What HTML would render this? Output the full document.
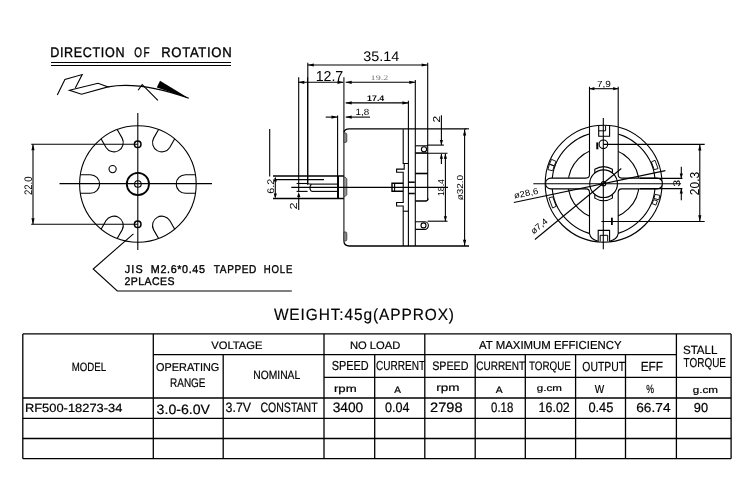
<!DOCTYPE html>
<html><head><meta charset="utf-8"><style>
html,body{margin:0;padding:0;background:#fff;width:750px;height:493px;overflow:hidden}
svg{display:block;will-change:transform} text{text-rendering:geometricPrecision}
</style></head><body>
<svg width="750" height="493" viewBox="0 0 750 493">
<rect width="750" height="493" fill="#fff"/>
<text id="td07451fe" transform="translate(50.21,57.00) scale(0.91,1)" x="0" y="0" font-size="13.81" textLength="81.65" lengthAdjust="spacing" font-family="Liberation Sans" font-weight="normal" fill="#000" stroke="#000" stroke-width="0.35">DIRECTION</text>
<text id="tf2e6598d" transform="translate(134.31,57.00) scale(0.72,1)" x="0" y="0" font-size="13.81" textLength="21.31" lengthAdjust="spacing" font-family="Liberation Sans" font-weight="normal" fill="#000" stroke="#000" stroke-width="0.35">OF</text>
<text id="t171494fa" transform="translate(161.24,57.00) scale(0.95,1)" x="0" y="0" font-size="13.81" textLength="74.09" lengthAdjust="spacing" font-family="Liberation Sans" font-weight="normal" fill="#000" stroke="#000" stroke-width="0.35">ROTATION</text>
<line x1="51.00" y1="62.50" x2="231.00" y2="62.50" stroke="#000" stroke-width="1.2"/>
<line x1="51.00" y1="65.50" x2="231.00" y2="65.50" stroke="#000" stroke-width="1.2"/>
<path d="M57.3,94.9 L64.9,79.4 L82.2,74.5 L75.3,88.1" stroke="#000" stroke-width="1.1" fill="none"/>
<path d="M69.5,90.3 L98,83.3 L108.1,86.9 L81.5,94.3 Z" stroke="#000" stroke-width="1.1" fill="none"/>
<path d="M108.1,86.9 Q140,81 188.8,98.3" stroke="#000" stroke-width="1.1" fill="none"/>
<path d="M138.1,90.3 L142.2,84.6 L157.9,100.4" stroke="#000" stroke-width="1.1" fill="none"/>
<path d="M160,80.7 L156.8,87.6 L188.8,98.3 Z" fill="#000"/>
<circle cx="137.90" cy="184.00" r="58.30" stroke="#000" stroke-width="1.1" fill="none"/>
<path d="M195.45,193.30 L185.50,193.30 A9.3,9.3 0 0 1 185.50,174.70 L195.45,174.70" stroke="#000" stroke-width="1.1" fill="none"/>
<path d="M174.73,138.81 L169.75,147.43 A9.3,9.3 0 0 1 153.65,138.13 L158.62,129.51" stroke="#000" stroke-width="1.1" fill="none"/>
<path d="M117.18,129.51 L122.15,138.13 A9.3,9.3 0 0 1 106.05,147.43 L101.07,138.81" stroke="#000" stroke-width="1.1" fill="none"/>
<path d="M80.35,174.70 L90.30,174.70 A9.3,9.3 0 0 1 90.30,193.30 L80.35,193.30" stroke="#000" stroke-width="1.1" fill="none"/>
<path d="M101.07,229.19 L106.05,220.57 A9.3,9.3 0 0 1 122.15,229.87 L117.18,238.49" stroke="#000" stroke-width="1.1" fill="none"/>
<path d="M158.62,238.49 L153.65,229.87 A9.3,9.3 0 0 1 169.75,220.57 L174.73,229.19" stroke="#000" stroke-width="1.1" fill="none"/>
<line x1="59.50" y1="183.60" x2="212.00" y2="183.60" stroke="#000" stroke-width="1.1"/>
<line x1="137.80" y1="113.00" x2="137.80" y2="250.00" stroke="#000" stroke-width="1.1"/>
<circle cx="137.90" cy="184.00" r="11.10" stroke="#000" stroke-width="1.8" fill="none"/>
<circle cx="137.90" cy="184.00" r="3.30" stroke="#000" stroke-width="1.1" fill="none"/>
<circle cx="137.70" cy="144.20" r="3.30" stroke="#000" stroke-width="1.5" fill="none"/>
<circle cx="137.70" cy="224.30" r="3.30" stroke="#000" stroke-width="1.5" fill="none"/>
<circle cx="112.60" cy="169.10" r="3.60" stroke="#000" stroke-width="1.1" fill="none"/>
<line x1="31.20" y1="144.20" x2="137.70" y2="144.20" stroke="#000" stroke-width="1.1"/>
<line x1="31.20" y1="224.30" x2="137.70" y2="224.30" stroke="#000" stroke-width="1.1"/>
<line x1="33.00" y1="144.20" x2="33.00" y2="224.30" stroke="#000" stroke-width="1.1"/>
<path d="M33.00,144.20 L34.60,150.20 L31.40,150.20 Z" fill="#000"/>
<path d="M33.00,224.30 L31.40,218.30 L34.60,218.30 Z" fill="#000"/>
<g id="tfa8276b0" transform="translate(32.22,195.09) rotate(-90)"><text x="0" y="0" font-size="10.93" textLength="18.64" lengthAdjust="spacingAndGlyphs" font-family="Liberation Sans" fill="#000">22.0</text></g>
<path d="M133.4,233.8 L93.2,269 L117.3,291 L291.8,291" stroke="#000" stroke-width="1.1" fill="none"/>
<text id="t4ec7ca9b" transform="translate(124.72,272.60) scale(0.95,1)" x="0" y="0" font-size="11.34" textLength="18.86" lengthAdjust="spacing" font-family="Liberation Sans" font-weight="normal" fill="#000" stroke="#000" stroke-width="0.35">JIS</text>
<text id="ta46a9d43" transform="translate(150.86,272.60) scale(0.95,1)" x="0" y="0" font-size="11.34" textLength="56.90" lengthAdjust="spacing" font-family="Liberation Sans" font-weight="normal" fill="#000" stroke="#000" stroke-width="0.35">M2.6*0.45</text>
<text id="t96287b0b" transform="translate(213.85,272.60) scale(0.89,1)" x="0" y="0" font-size="11.34" textLength="47.73" lengthAdjust="spacing" font-family="Liberation Sans" font-weight="normal" fill="#000" stroke="#000" stroke-width="0.35">TAPPED</text>
<text id="t01890a85" transform="translate(263.84,272.60) scale(0.85,1)" x="0" y="0" font-size="11.34" textLength="33.54" lengthAdjust="spacing" font-family="Liberation Sans" font-weight="normal" fill="#000" stroke="#000" stroke-width="0.35">HOLE</text>
<text id="t11d90168" transform="translate(124.46,285.00) scale(0.95,1)" x="0" y="0" font-size="11.05" textLength="52.60" lengthAdjust="spacing" font-family="Liberation Sans" font-weight="normal" fill="#000" stroke="#000" stroke-width="0.35">2PLACES</text>
<text id="tf5312727" x="363.21" y="61.10" font-size="13.81" textLength="35.97" lengthAdjust="spacingAndGlyphs" font-family="Liberation Sans" font-weight="normal" fill="#000">35.14</text>
<line x1="307.80" y1="65.00" x2="427.70" y2="65.00" stroke="#000" stroke-width="1.1"/>
<path d="M307.80,65.00 L313.80,63.40 L313.80,66.60 Z" fill="#000"/>
<path d="M427.70,65.00 L421.70,66.60 L421.70,63.40 Z" fill="#000"/>
<line x1="307.80" y1="62.80" x2="307.80" y2="185.00" stroke="#000" stroke-width="1.1"/>
<line x1="427.70" y1="62.80" x2="427.70" y2="200.00" stroke="#000" stroke-width="1.1"/>
<text id="t813f9eb9" x="315.63" y="80.70" font-size="14.39" textLength="27.65" lengthAdjust="spacingAndGlyphs" font-family="Liberation Sans" font-weight="normal" fill="#000">12.7</text>
<line x1="298.30" y1="82.30" x2="343.50" y2="82.30" stroke="#000" stroke-width="1.1"/>
<path d="M298.30,82.30 L304.30,80.70 L304.30,83.90 Z" fill="#000"/>
<path d="M343.50,82.30 L337.50,83.90 L337.50,80.70 Z" fill="#000"/>
<line x1="298.70" y1="77.30" x2="298.70" y2="191.60" stroke="#000" stroke-width="1.1"/>
<line x1="343.90" y1="77.30" x2="343.90" y2="241.70" stroke="#333" stroke-width="1.3"/>
<text id="t7fa4963f" x="370.64" y="79.80" font-size="6.98" textLength="17.74" lengthAdjust="spacingAndGlyphs" font-family="Liberation Serif" font-weight="normal" fill="#777">19.2</text>
<line x1="345.70" y1="82.30" x2="415.30" y2="82.30" stroke="#000" stroke-width="1.1"/>
<path d="M345.70,82.30 L351.70,80.70 L351.70,83.90 Z" fill="#000"/>
<path d="M415.30,82.30 L409.30,83.90 L409.30,80.70 Z" fill="#000"/>
<line x1="415.30" y1="80.00" x2="415.30" y2="246.00" stroke="#000" stroke-width="1.1"/>
<text id="t4eb235c8" x="367.10" y="101.20" font-size="8.14" textLength="17.19" lengthAdjust="spacingAndGlyphs" font-family="Liberation Sans" font-weight="bold" fill="#000">17.4</text>
<line x1="345.70" y1="102.90" x2="408.40" y2="102.90" stroke="#000" stroke-width="1.1"/>
<path d="M345.70,102.90 L351.70,101.30 L351.70,104.50 Z" fill="#000"/>
<path d="M408.40,102.90 L402.40,104.50 L402.40,101.30 Z" fill="#000"/>
<line x1="408.40" y1="100.70" x2="408.40" y2="246.00" stroke="#000" stroke-width="1.1"/>
<text id="t9f65f6f7" x="355.62" y="115.40" font-size="9.01" textLength="13.67" lengthAdjust="spacingAndGlyphs" font-family="Liberation Sans" font-weight="normal" fill="#000">1,8</text>
<line x1="325.70" y1="117.10" x2="337.50" y2="117.10" stroke="#000" stroke-width="1.1"/>
<path d="M337.50,117.10 L331.50,118.70 L331.50,115.50 Z" fill="#000"/>
<line x1="345.70" y1="117.10" x2="370.00" y2="117.10" stroke="#000" stroke-width="1.1"/>
<path d="M345.70,117.10 L351.70,115.50 L351.70,118.70 Z" fill="#000"/>
<line x1="337.60" y1="115.60" x2="337.60" y2="176.00" stroke="#000" stroke-width="1.1"/>
<path d="M343.9,132.4 Q344.5,128.8 349.4,128.8 L466.4,128.8" stroke="#000" stroke-width="1.3" fill="none"/>
<path d="M343.9,241.7 Q344.5,246 349.4,246 L469,246" stroke="#000" stroke-width="1.3" fill="none"/>
<line x1="465.00" y1="128.80" x2="469.00" y2="128.80" stroke="#000" stroke-width="1.1"/>
<path d="M343.9,133 L345.8,133 Q346.8,133 346.8,134.5 L346.8,141 Q346.8,142.4 345.8,142.4 L343.9,142.4 Z" fill="#888" stroke="#333" stroke-width="0.8"/>
<path d="M343.9,177.2 L345.3,177.2 L346.8,178.7 L346.8,194.8 L345.3,196.3 L343.9,196.3 Z" fill="#999" stroke="#333" stroke-width="0.8"/>
<path d="M343.9,232 L345.8,232 Q346.8,232 346.8,233.5 L346.8,239.5 Q346.8,240.9 345.8,240.9 L343.9,240.9 Z" fill="#888" stroke="#333" stroke-width="0.8"/>
<line x1="273.00" y1="176.00" x2="343.90" y2="176.00" stroke="#000" stroke-width="1.5"/>
<line x1="273.00" y1="198.50" x2="343.90" y2="198.50" stroke="#000" stroke-width="1.5"/>
<line x1="338.00" y1="176.00" x2="338.00" y2="198.50" stroke="#000" stroke-width="2.0"/>
<line x1="275.00" y1="179.60" x2="324.00" y2="179.60" stroke="#000" stroke-width="1.1"/>
<line x1="296.60" y1="183.50" x2="307.60" y2="183.50" stroke="#000" stroke-width="1.1"/>
<line x1="296.60" y1="191.40" x2="307.60" y2="191.40" stroke="#000" stroke-width="1.1"/>
<path d="M307.6,77.3 L307.6,183.2 Q308.2,184.1 311.4,184.1" stroke="#000" stroke-width="1.1" fill="none"/>
<path d="M311.4,184.1 Q308.4,187.7 311.4,191.4" stroke="#000" stroke-width="1.1" fill="none"/>
<line x1="311.40" y1="184.10" x2="338.00" y2="184.10" stroke="#000" stroke-width="1.1"/>
<line x1="311.40" y1="191.40" x2="338.00" y2="191.40" stroke="#000" stroke-width="1.1"/>
<line x1="291.30" y1="187.40" x2="448.00" y2="187.40" stroke="#000" stroke-width="1.1"/>
<line x1="269.70" y1="129.00" x2="269.70" y2="176.40" stroke="#000" stroke-width="1.1"/>
<line x1="275.30" y1="178.00" x2="275.30" y2="197.30" stroke="#000" stroke-width="1.1"/>
<path d="M275.30,176.50 L276.90,181.50 L273.70,181.50 Z" fill="#000"/>
<path d="M275.30,198.50 L273.70,193.50 L276.90,193.50 Z" fill="#000"/>
<g id="t292ff483" transform="translate(273.96,193.81) rotate(-90)"><text x="0" y="0" font-size="9.62" textLength="15.07" lengthAdjust="spacingAndGlyphs" font-family="Liberation Sans" fill="#000">6.2</text></g>
<line x1="298.70" y1="194.00" x2="298.70" y2="210.00" stroke="#000" stroke-width="1.1"/>
<path d="M298.70,192.00 L300.30,197.00 L297.10,197.00 Z" fill="#000"/>
<g id="t7d842162" transform="translate(296.79,209.44) rotate(-90)"><text x="0" y="0" font-size="10.16" textLength="7.07" lengthAdjust="spacingAndGlyphs" font-family="Liberation Sans" fill="#000">2</text></g>
<path d="M403.2,129.2 L403.2,163.5 L408.3,163.5" stroke="#000" stroke-width="1.1" fill="none"/>
<path d="M404.2,163.5 L404.2,169.1 L396.6,169.1 L396.6,172.2 L403.2,172.2 L403.2,202.5 L396.6,202.5 L396.6,206 L403.2,206 L403.2,246" stroke="#000" stroke-width="1.1" fill="none"/>
<line x1="403.20" y1="211.20" x2="408.30" y2="211.20" stroke="#000" stroke-width="1.1"/>
<line x1="408.80" y1="182.20" x2="414.80" y2="182.20" stroke="#000" stroke-width="1.5"/>
<line x1="408.80" y1="193.50" x2="414.80" y2="193.50" stroke="#000" stroke-width="1.5"/>
<path d="M403.2,183.2 L392,183.2 L392,191.3 L403.2,191.3" stroke="#000" stroke-width="1.4" fill="none"/>
<line x1="394.60" y1="183.20" x2="394.60" y2="191.30" stroke="#000" stroke-width="1.1"/>
<path d="M415.4,173.5 L428,173.5" stroke="#000" stroke-width="1.6" fill="none"/>
<path d="M428,198.5 Q428,201 425.5,201 L415.4,201" stroke="#000" stroke-width="1.3" fill="none"/>
<path d="M415.4,145.8 L428,145.8" stroke="#000" stroke-width="1.1" fill="none"/>
<path d="M415.4,152.9 L428,152.9" stroke="#000" stroke-width="1.1" fill="none"/>
<circle cx="424.00" cy="149.30" r="2.60" stroke="#000" stroke-width="1.1" fill="none"/>
<path d="M415.4,221.8 L424.6,221.8 A3.8,3.8 0 0 1 424.6,229.4 L415.4,229.4" stroke="#000" stroke-width="1.1" fill="none"/>
<circle cx="423.50" cy="225.40" r="2.50" stroke="#000" stroke-width="1.1" fill="none"/>
<line x1="427.60" y1="145.10" x2="443.90" y2="145.10" stroke="#000" stroke-width="1.1"/>
<line x1="415.30" y1="153.30" x2="447.50" y2="153.30" stroke="#000" stroke-width="1.1"/>
<line x1="441.40" y1="115.30" x2="441.40" y2="145.10" stroke="#000" stroke-width="1.1"/>
<path d="M441.40,145.10 L439.80,140.10 L443.00,140.10 Z" fill="#000"/>
<line x1="441.40" y1="153.70" x2="441.40" y2="164.00" stroke="#000" stroke-width="1.1"/>
<path d="M441.40,153.70 L443.00,158.70 L439.80,158.70 Z" fill="#000"/>
<g id="tbc256b78" transform="translate(440.14,122.62) rotate(-90)"><text x="0" y="0" font-size="10.11" textLength="6.67" lengthAdjust="spacingAndGlyphs" font-family="Liberation Sans" fill="#000">2</text></g>
<line x1="445.40" y1="153.70" x2="445.40" y2="221.20" stroke="#000" stroke-width="1.1"/>
<path d="M445.40,153.70 L447.00,158.70 L443.80,158.70 Z" fill="#000"/>
<path d="M445.40,221.20 L443.80,216.20 L447.00,216.20 Z" fill="#000"/>
<line x1="427.60" y1="221.20" x2="447.50" y2="221.20" stroke="#000" stroke-width="1.1"/>
<g id="t678559b9" transform="translate(443.64,196.09) rotate(-90)"><text x="0" y="0" font-size="8.78" textLength="17.06" lengthAdjust="spacingAndGlyphs" font-family="Liberation Sans" fill="#000">18.4</text></g>
<line x1="464.60" y1="129.20" x2="464.60" y2="246.00" stroke="#000" stroke-width="1.1"/>
<path d="M464.60,129.50 L466.20,135.50 L463.00,135.50 Z" fill="#000"/>
<path d="M464.60,245.70 L463.00,239.70 L466.20,239.70 Z" fill="#000"/>
<g id="t65c82505" transform="translate(463.46,200.31) rotate(-90)"><text x="0" y="0" font-size="8.75" textLength="25.42" lengthAdjust="spacingAndGlyphs" font-family="Liberation Sans" fill="#000">ø32.0</text></g>
<text id="t41ddb5c4" x="596.92" y="86.58" font-size="8.87" textLength="13.96" lengthAdjust="spacingAndGlyphs" font-family="Liberation Sans" font-weight="normal" fill="#000">7,9</text>
<line x1="589.40" y1="88.70" x2="618.20" y2="88.70" stroke="#000" stroke-width="1.1"/>
<path d="M589.40,88.70 L594.40,87.10 L594.40,90.30 Z" fill="#000"/>
<path d="M618.20,88.70 L613.20,90.30 L613.20,87.10 Z" fill="#000"/>
<circle cx="603.60" cy="183.70" r="58.40" stroke="#000" stroke-width="1.1" fill="none"/>
<circle cx="603.60" cy="183.70" r="51.60" stroke="#000" stroke-width="1.1" fill="none"/>
<circle cx="603.60" cy="183.70" r="35.40" stroke="#000" stroke-width="1.1" fill="none"/>
<path d="M554.20,165.92 L549.50,164.22 L547.86,169.59 L552.70,170.82 Z" stroke="#000" stroke-width="0.9" fill="none"/>
<path d="M556.06,161.43 L551.53,159.31 L549.53,164.13 L554.23,165.83 Z" stroke="#000" stroke-width="0.9" fill="none"/>
<path d="M552.77,196.84 L548.90,197.85 L552.60,208.02 L556.21,206.30 Z" stroke="#000" stroke-width="0.9" fill="none"/>
<path d="M654.19,169.67 L658.05,168.60 L655.01,160.27 L651.37,161.93 Z" stroke="#000" stroke-width="0.9" fill="none"/>
<path d="M653.99,198.44 L658.79,199.84 L659.91,195.36 L655.01,194.35 Z" stroke="#000" stroke-width="0.9" fill="none"/>
<path d="M652.17,203.62 L655.87,205.14 L657.43,200.88 L653.61,199.66 Z" stroke="#000" stroke-width="0.9" fill="none"/>
<path d="M589.5,127.6 L589.5,174.6 Q589.5,178.1 586.0,178.1 L550.9,178.1 A5.400000000000006,5.400000000000006 0 0 0 550.9,188.9 L586.0,188.9 Q589.5,188.9 589.5,192.4 L589.5,233.7 Q590.5,239.5 598.2,241.2 L609.6,241.2 Q617.2,239.5 618.2,233.7 L618.2,192.4 Q618.2,188.9 621.7,188.9 L657.0,188.9 A5.400000000000006,5.400000000000006 0 0 0 657.0,178.1 L621.7,178.1 Q618.2,178.1 618.2,174.6 L618.2,127.6 Z" fill="#fff" stroke="none"/>
<path d="M589.5,86.8 L589.5,174.6 Q589.5,178.1 586.0,178.1 L550.9,178.1 A5.400000000000006,5.400000000000006 0 0 0 550.9,188.9 L586.0,188.9 Q589.5,188.9 589.5,192.4 L589.5,233.7 Q590.5,239.5 598.2,241.2" stroke="#000" stroke-width="1.1" fill="none"/>
<path d="M618.2,86.8 L618.2,174.6 Q618.2,178.1 621.7,178.1 L657.0,178.1 A5.400000000000006,5.400000000000006 0 0 1 657.0,188.9 L621.7,188.9 Q618.2,188.9 618.2,192.4 L618.2,233.7 Q617.2,239.5 609.6,241.2" stroke="#000" stroke-width="1.1" fill="none"/>
<circle cx="603.60" cy="183.70" r="13.85" stroke="#000" stroke-width="1.1" fill="none"/>
<circle cx="603.60" cy="183.70" r="2.20" stroke="#000" stroke-width="1.1" fill="none"/>
<path d="M594.80,173.01 L594.80,169.27 A16.9,16.9 0 0 1 612.40,169.27 L612.40,173.01" stroke="#000" stroke-width="1.1" fill="none"/>
<path d="M594.80,194.39 L594.80,198.13 A16.9,16.9 0 0 0 612.40,198.13 L612.40,194.39" stroke="#000" stroke-width="1.1" fill="none"/>
<line x1="533.30" y1="183.70" x2="681.00" y2="183.70" stroke="#000" stroke-width="1.1"/>
<line x1="603.30" y1="118.00" x2="603.30" y2="249.30" stroke="#000" stroke-width="1.1"/>
<path d="M598.7,125.9 L598.7,136.3 L609.6,136.3 L609.6,125.9" fill="none" stroke="#000" stroke-width="1.1"/>
<path d="M598.7,130.8 L605.6,130.8 L605.6,125.9" fill="none" stroke="#000" stroke-width="1"/>
<circle cx="603.40" cy="144.30" r="4.30" stroke="#000" stroke-width="1.1" fill="none"/>
<rect x="596.3" y="142.4" width="2" height="6.9" fill="#000"/>
<path d="M598.2,241.4 L598.2,230.4 L609.6,230.4 L609.6,241.4" fill="none" stroke="#000" stroke-width="1.1"/>
<path d="M600.2,241.4 L600.2,235.3 L607.7,235.3 L607.7,241.4" fill="none" stroke="#000" stroke-width="1"/>
<rect x="611" y="217.7" width="1.8" height="7.3" fill="#000"/>
<line x1="603.30" y1="144.40" x2="704.70" y2="144.40" stroke="#000" stroke-width="1.1"/>
<line x1="601.40" y1="221.50" x2="704.70" y2="221.50" stroke="#000" stroke-width="1.1"/>
<line x1="699.80" y1="144.40" x2="699.80" y2="221.50" stroke="#000" stroke-width="1.1"/>
<path d="M699.80,144.60 L701.40,150.60 L698.20,150.60 Z" fill="#000"/>
<path d="M699.80,221.30 L698.20,215.30 L701.40,215.30 Z" fill="#000"/>
<g id="t9876b7a1" transform="translate(698.65,195.13) rotate(-90)"><text x="0" y="0" font-size="12.92" textLength="23.28" lengthAdjust="spacingAndGlyphs" font-family="Liberation Sans" fill="#000">20.3</text></g>
<line x1="640.00" y1="178.40" x2="682.40" y2="178.40" stroke="#000" stroke-width="1.1"/>
<line x1="640.00" y1="188.60" x2="682.40" y2="188.60" stroke="#000" stroke-width="1.1"/>
<line x1="681.30" y1="166.80" x2="681.30" y2="178.40" stroke="#000" stroke-width="1.1"/>
<path d="M681.30,178.40 L679.70,173.40 L682.90,173.40 Z" fill="#000"/>
<line x1="681.30" y1="188.60" x2="681.30" y2="200.30" stroke="#000" stroke-width="1.1"/>
<path d="M681.30,188.60 L682.90,193.60 L679.70,193.60 Z" fill="#000"/>
<g id="t451c4fd9" transform="translate(680.24,186.73) rotate(-90)"><text x="0" y="0" font-size="9.65" textLength="7.07" lengthAdjust="spacingAndGlyphs" font-family="Liberation Sans" fill="#000">3</text></g>
<line x1="513.80" y1="202.50" x2="665.40" y2="170.60" stroke="#000" stroke-width="1.1"/>
<line x1="534.90" y1="239.50" x2="621.30" y2="168.50" stroke="#000" stroke-width="1.1"/>
<g transform="translate(514.60,198.60) rotate(-11.50)"><text x="0" y="0" font-size="8.72" textLength="24.50" lengthAdjust="spacingAndGlyphs" font-family="Liberation Sans" fill="#000">ø28,6</text></g>
<g transform="translate(533.50,234.60) rotate(-39.50)"><text x="0" y="0" font-size="8.72" textLength="19.50" lengthAdjust="spacingAndGlyphs" font-family="Liberation Sans" fill="#000">ø7,4</text></g>
<text id="t4463606a" transform="translate(273.88,319.55) scale(0.95,1)" x="0" y="0" font-size="16.28" textLength="189.63" lengthAdjust="spacing" font-family="Liberation Sans" font-weight="normal" fill="#000" stroke="#000" stroke-width="0.15">WEIGHT:45g(APPROX)</text>
<line x1="22.80" y1="333.90" x2="731.10" y2="333.90" stroke="#000" stroke-width="1.3"/>
<line x1="22.80" y1="458.70" x2="731.10" y2="458.70" stroke="#000" stroke-width="1.3"/>
<line x1="22.80" y1="333.90" x2="22.80" y2="458.70" stroke="#000" stroke-width="1.3"/>
<line x1="731.10" y1="333.90" x2="731.10" y2="458.70" stroke="#000" stroke-width="1.3"/>
<line x1="153.30" y1="333.90" x2="153.30" y2="458.70" stroke="#000" stroke-width="1.3"/>
<line x1="324.00" y1="333.90" x2="324.00" y2="458.70" stroke="#000" stroke-width="1.3"/>
<line x1="424.80" y1="333.90" x2="424.80" y2="458.70" stroke="#000" stroke-width="1.3"/>
<line x1="676.40" y1="333.90" x2="676.40" y2="458.70" stroke="#000" stroke-width="1.3"/>
<line x1="223.20" y1="354.60" x2="223.20" y2="458.70" stroke="#000" stroke-width="1.3"/>
<line x1="374.70" y1="354.60" x2="374.70" y2="458.70" stroke="#000" stroke-width="1.3"/>
<line x1="475.20" y1="354.60" x2="475.20" y2="458.70" stroke="#000" stroke-width="1.3"/>
<line x1="525.30" y1="354.60" x2="525.30" y2="458.70" stroke="#000" stroke-width="1.3"/>
<line x1="575.60" y1="354.60" x2="575.60" y2="458.70" stroke="#000" stroke-width="1.3"/>
<line x1="625.50" y1="354.60" x2="625.50" y2="458.70" stroke="#000" stroke-width="1.3"/>
<line x1="153.30" y1="354.60" x2="676.40" y2="354.60" stroke="#000" stroke-width="1.3"/>
<line x1="324.00" y1="377.40" x2="731.10" y2="377.40" stroke="#000" stroke-width="1.3"/>
<line x1="22.80" y1="398.00" x2="731.10" y2="398.00" stroke="#000" stroke-width="1.3"/>
<line x1="22.80" y1="418.40" x2="731.10" y2="418.40" stroke="#000" stroke-width="1.3"/>
<line x1="22.80" y1="438.50" x2="731.10" y2="438.50" stroke="#000" stroke-width="1.3"/>
<text id="t4e160b7a" x="71.66" y="370.80" font-size="11.92" textLength="34.39" lengthAdjust="spacingAndGlyphs" font-family="Liberation Sans" font-weight="normal" fill="#000" stroke="#000" stroke-width="0.2">MODEL</text>
<text id="t1dfefab7" x="211.19" y="349.00" font-size="10.90" textLength="51.33" lengthAdjust="spacingAndGlyphs" font-family="Liberation Sans" font-weight="normal" fill="#000" stroke="#000" stroke-width="0.2">VOLTAGE</text>
<text id="td854d700" x="156.03" y="370.90" font-size="11.34" textLength="63.34" lengthAdjust="spacingAndGlyphs" font-family="Liberation Sans" font-weight="normal" fill="#000" stroke="#000" stroke-width="0.2">OPERATING</text>
<text id="tb571642d" x="170.07" y="386.90" font-size="12.50" textLength="35.43" lengthAdjust="spacingAndGlyphs" font-family="Liberation Sans" font-weight="normal" fill="#000" stroke="#000" stroke-width="0.2">RANGE</text>
<text id="t0ef3623f" x="253.34" y="379.10" font-size="11.92" textLength="46.87" lengthAdjust="spacingAndGlyphs" font-family="Liberation Sans" font-weight="normal" fill="#000" stroke="#000" stroke-width="0.2">NOMINAL</text>
<text id="t4782b442" x="349.94" y="348.50" font-size="10.90" textLength="50.46" lengthAdjust="spacingAndGlyphs" font-family="Liberation Sans" font-weight="normal" fill="#000" stroke="#000" stroke-width="0.2">NO LOAD</text>
<text id="tc07cb29d" x="479.10" y="349.00" font-size="11.63" textLength="142.43" lengthAdjust="spacingAndGlyphs" font-family="Liberation Sans" font-weight="normal" fill="#000" stroke="#000" stroke-width="0.2">AT MAXIMUM EFFICIENCY</text>
<text id="tcf46fadd" x="682.90" y="354.30" font-size="11.92" textLength="34.60" lengthAdjust="spacingAndGlyphs" font-family="Liberation Sans" font-weight="normal" fill="#000" stroke="#000" stroke-width="0.2">STALL</text>
<text id="t769021a7" x="683.58" y="366.86" font-size="12.94" textLength="42.43" lengthAdjust="spacingAndGlyphs" font-family="Liberation Sans" font-weight="normal" fill="#000" stroke="#000" stroke-width="0.2">TORQUE</text>
<text id="t56fef380" x="331.68" y="369.50" font-size="13.08" textLength="36.93" lengthAdjust="spacingAndGlyphs" font-family="Liberation Sans" font-weight="normal" fill="#000" stroke="#000" stroke-width="0.2">SPEED</text>
<text id="tcbea2f60" x="376.04" y="369.50" font-size="13.08" textLength="49.18" lengthAdjust="spacingAndGlyphs" font-family="Liberation Sans" font-weight="normal" fill="#000" stroke="#000" stroke-width="0.2">CURRENT</text>
<text id="t3f1ba038" x="432.20" y="369.50" font-size="12.35" textLength="36.30" lengthAdjust="spacingAndGlyphs" font-family="Liberation Sans" font-weight="normal" fill="#000" stroke="#000" stroke-width="0.2">SPEED</text>
<text id="t455f7437" x="476.28" y="369.50" font-size="12.35" textLength="48.84" lengthAdjust="spacingAndGlyphs" font-family="Liberation Sans" font-weight="normal" fill="#000" stroke="#000" stroke-width="0.2">CURRENT</text>
<text id="t395da97c" x="528.92" y="369.77" font-size="12.35" textLength="42.01" lengthAdjust="spacingAndGlyphs" font-family="Liberation Sans" font-weight="normal" fill="#000" stroke="#000" stroke-width="0.2">TORQUE</text>
<text id="tf664357d" x="582.30" y="370.60" font-size="13.23" textLength="42.71" lengthAdjust="spacingAndGlyphs" font-family="Liberation Sans" font-weight="normal" fill="#000" stroke="#000" stroke-width="0.2">OUTPUT</text>
<text id="t7f9b9095" x="640.73" y="370.60" font-size="13.23" textLength="22.37" lengthAdjust="spacingAndGlyphs" font-family="Liberation Sans" font-weight="normal" fill="#000" stroke="#000" stroke-width="0.2">EFF</text>
<text id="tf88cc54b" x="333.96" y="391.65" font-size="10.22" textLength="22.72" lengthAdjust="spacingAndGlyphs" font-family="Liberation Sans" font-weight="normal" fill="#000" stroke="#000" stroke-width="0.2">rpm</text>
<text id="t108cd677" x="394.15" y="392.70" font-size="9.30" textLength="6.69" lengthAdjust="spacingAndGlyphs" font-family="Liberation Sans" font-weight="normal" fill="#000" stroke="#000" stroke-width="0.2">A</text>
<text id="t94e46f19" x="436.39" y="391.41" font-size="10.40" textLength="23.20" lengthAdjust="spacingAndGlyphs" font-family="Liberation Sans" font-weight="normal" fill="#000" stroke="#000" stroke-width="0.2">rpm</text>
<text id="tf9fd6c1d" x="495.83" y="392.70" font-size="9.30" textLength="6.88" lengthAdjust="spacingAndGlyphs" font-family="Liberation Sans" font-weight="normal" fill="#000" stroke="#000" stroke-width="0.2">A</text>
<text id="t5dbbe716" x="536.89" y="391.15" font-size="8.90" textLength="25.03" lengthAdjust="spacingAndGlyphs" font-family="Liberation Sans" font-weight="normal" fill="#000" stroke="#000" stroke-width="0.2">g.cm</text>
<text id="t442c9191" x="594.71" y="393.00" font-size="11.63" textLength="9.44" lengthAdjust="spacingAndGlyphs" font-family="Liberation Sans" font-weight="normal" fill="#000" stroke="#000" stroke-width="0.2">W</text>
<text id="t7242c3ca" x="646.13" y="393.40" font-size="11.93" textLength="7.75" lengthAdjust="spacingAndGlyphs" font-family="Liberation Sans" font-weight="normal" fill="#000" stroke="#000" stroke-width="0.2">%</text>
<text id="t00e35e57" x="692.71" y="392.50" font-size="9.35" textLength="25.22" lengthAdjust="spacingAndGlyphs" font-family="Liberation Sans" font-weight="normal" fill="#000" stroke="#000" stroke-width="0.2">g.cm</text>
<text id="t13a6ef01" x="24.93" y="411.90" font-size="11.92" textLength="97.43" lengthAdjust="spacingAndGlyphs" font-family="Liberation Sans" font-weight="normal" fill="#000" stroke="#000" stroke-width="0.2">RF500-18273-34</text>
<text id="t68a0e29e" x="156.62" y="414.30" font-size="13.52" textLength="53.41" lengthAdjust="spacingAndGlyphs" font-family="Liberation Sans" font-weight="normal" fill="#000" stroke="#000" stroke-width="0.2">3.0-6.0V</text>
<text id="t921b297f" x="225.61" y="412.20" font-size="13.52" textLength="25.52" lengthAdjust="spacingAndGlyphs" font-family="Liberation Sans" font-weight="normal" fill="#000" stroke="#000" stroke-width="0.2">3.7V</text>
<text id="tac74d6dd" x="260.44" y="412.20" font-size="13.52" textLength="57.17" lengthAdjust="spacingAndGlyphs" font-family="Liberation Sans" font-weight="normal" fill="#000" stroke="#000" stroke-width="0.2">CONSTANT</text>
<text id="tcec62bf0" x="332.65" y="411.70" font-size="13.66" textLength="30.64" lengthAdjust="spacingAndGlyphs" font-family="Liberation Sans" font-weight="normal" fill="#000" stroke="#000" stroke-width="0.2">3400</text>
<text id="t81de81ee" x="384.92" y="411.70" font-size="13.66" textLength="24.54" lengthAdjust="spacingAndGlyphs" font-family="Liberation Sans" font-weight="normal" fill="#000" stroke="#000" stroke-width="0.2">0.04</text>
<text id="t61f3b64f" x="430.05" y="411.70" font-size="13.66" textLength="32.56" lengthAdjust="spacingAndGlyphs" font-family="Liberation Sans" font-weight="normal" fill="#000" stroke="#000" stroke-width="0.2">2798</text>
<text id="t190922a7" x="491.07" y="411.70" font-size="13.66" textLength="22.18" lengthAdjust="spacingAndGlyphs" font-family="Liberation Sans" font-weight="normal" fill="#000" stroke="#000" stroke-width="0.2">0.18</text>
<text id="t0725d98e" x="538.59" y="411.70" font-size="13.66" textLength="31.21" lengthAdjust="spacingAndGlyphs" font-family="Liberation Sans" font-weight="normal" fill="#000" stroke="#000" stroke-width="0.2">16.02</text>
<text id="t9a26a472" x="588.38" y="411.70" font-size="13.66" textLength="25.08" lengthAdjust="spacingAndGlyphs" font-family="Liberation Sans" font-weight="normal" fill="#000" stroke="#000" stroke-width="0.2">0.45</text>
<text id="t74293d55" x="636.20" y="411.90" font-size="12.94" textLength="34.38" lengthAdjust="spacingAndGlyphs" font-family="Liberation Sans" font-weight="normal" fill="#000" stroke="#000" stroke-width="0.2">66.74</text>
<text id="t59da8c8f" x="693.83" y="411.90" font-size="12.94" textLength="14.24" lengthAdjust="spacingAndGlyphs" font-family="Liberation Sans" font-weight="normal" fill="#000" stroke="#000" stroke-width="0.2">90</text>
</svg>
</body></html>
